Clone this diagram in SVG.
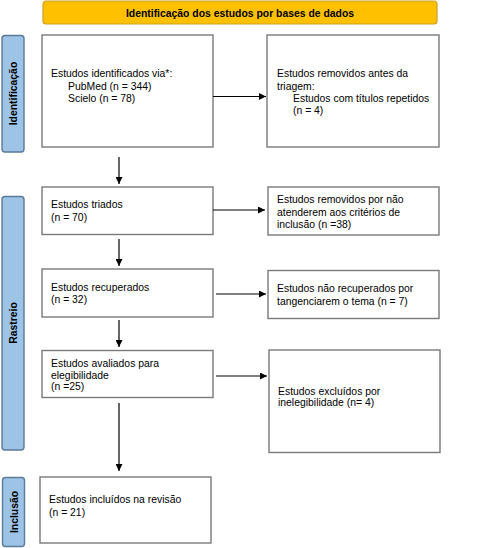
<svg xmlns="http://www.w3.org/2000/svg" width="483" height="548" viewBox="0 0 483 548">
<defs>
<style>
.box{fill:#fff;stroke:#7a7a7a;stroke-width:1.4}
.side{fill:#9dc3e6;stroke:#5a7a99;stroke-width:1.4}
.hdr{fill:#ffc000;stroke:#c9a227;stroke-width:1.2}
.t{font-family:"Liberation Sans",Arial,sans-serif;font-size:10.4px;fill:#000}
.b{font-family:"Liberation Sans",Arial,sans-serif;font-size:10.4px;font-weight:bold;fill:#000}
.c{stroke:#000;stroke-width:1.2;fill:none;marker-end:url(#ah)}
</style>
<marker id="ah" viewBox="0 0 10 10" refX="10" refY="5" markerWidth="7" markerHeight="7" markerUnits="userSpaceOnUse" orient="auto">
<path d="M0,0 L10,5 L0,10 z" fill="#000"/>
</marker>
</defs>
<g id="header">
<rect class="hdr" x="43" y="1" width="394" height="23" rx="3"/>
<text class="b" x="240" y="16.5" text-anchor="middle">Identificação dos estudos por bases de dados</text>
</g>
<g id="side-identificacao">
<rect class="side" x="2" y="35.5" width="22" height="116.5" rx="3"/>
<text class="b" transform="translate(17,93.5) rotate(-90)" text-anchor="middle">Identificação</text>
</g>
<g id="side-rastreio">
<rect class="side" x="2" y="196.5" width="22" height="253.5" rx="3"/>
<text class="b" transform="translate(17,323) rotate(-90)" text-anchor="middle">Rastreio</text>
</g>
<g id="side-inclusao">
<rect class="side" x="2.5" y="477.5" width="22" height="69" rx="3"/>
<text class="b" transform="translate(17.5,512) rotate(-90)" text-anchor="middle">Inclusão</text>
</g>
<g id="box-identificados">
<rect class="box" x="42" y="35" width="171" height="112"/>
<text class="t" x="51" y="77">Estudos identificados via*:</text>
<text class="t" x="68" y="89.5">PubMed (n = 344)</text>
<text class="t" x="68" y="102">Scielo (n = 78)</text>
</g>
<g id="box-removidos">
<rect class="box" x="267" y="35" width="172" height="112"/>
<text class="t" x="277" y="77">Estudos removidos antes da</text>
<text class="t" x="277" y="89.5">triagem:</text>
<text class="t" x="293" y="102">Estudos com títulos repetidos</text>
<text class="t" x="293" y="114">(n = 4)</text>
</g>
<g id="box-triados">
<rect class="box" x="42" y="187" width="171" height="47.5"/>
<text class="t" x="51" y="208">Estudos triados</text>
<text class="t" x="51" y="220.5">(n = 70)</text>
</g>
<g id="box-removidos-criterios">
<rect class="box" x="268" y="187" width="171" height="48"/>
<text class="t" x="277" y="203">Estudos removidos por não</text>
<text class="t" x="277" y="215.5">atenderem aos critérios de</text>
<text class="t" x="277" y="227.5">inclusão (n =38)</text>
</g>
<g id="box-recuperados">
<rect class="box" x="42" y="269" width="171" height="48"/>
<text class="t" x="51" y="290.5">Estudos recuperados</text>
<text class="t" x="51" y="303">(n = 32)</text>
</g>
<g id="box-nao-recuperados">
<rect class="box" x="268" y="270.5" width="171" height="48"/>
<text class="t" x="277" y="292">Estudos não recuperados por</text>
<text class="t" x="277" y="304.5">tangenciarem o tema (n = 7)</text>
</g>
<g id="box-avaliados">
<rect class="box" x="42" y="350.5" width="171" height="47"/>
<text class="t" x="51" y="367">Estudos avaliados para</text>
<text class="t" x="51" y="378.5">elegibilidade</text>
<text class="t" x="51" y="389.5">(n =25)</text>
</g>
<g id="box-excluidos">
<rect class="box" x="269" y="350" width="171" height="102.5"/>
<text class="t" x="278" y="394.5">Estudos excluídos por</text>
<text class="t" x="278" y="406">inelegibilidade (n= 4)</text>
</g>
<g id="box-incluidos">
<rect class="box" x="40" y="477" width="171" height="66"/>
<text class="t" x="49" y="503">Estudos incluídos na revisão</text>
<text class="t" x="49" y="515.5">(n = 21)</text>
</g>
<g id="connectors">
<line class="c" x1="213" y1="96.5" x2="266" y2="96.5"/>
<line class="c" x1="119" y1="157" x2="119" y2="184"/>
<line class="c" x1="213" y1="210" x2="265" y2="210"/>
<line class="c" x1="119" y1="239" x2="119" y2="266"/>
<line class="c" x1="216" y1="294" x2="266" y2="294"/>
<line class="c" x1="119" y1="320" x2="119" y2="347"/>
<line class="c" x1="216" y1="376" x2="267" y2="376"/>
<line class="c" x1="119" y1="403" x2="119" y2="471"/>
</g>
</svg>
